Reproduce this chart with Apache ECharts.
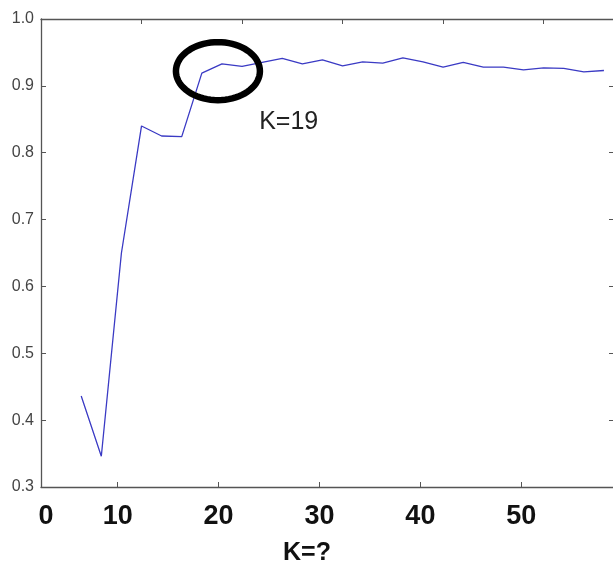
<!DOCTYPE html>
<html>
<head>
<meta charset="utf-8">
<script src="https://cdn.jsdelivr.net/npm/echarts@6/dist/echarts.min.js"></script>
<style>
html,body{margin:0;padding:0;background:#fff;}
#c{width:613px;height:567px;}
</style>
</head>
<body>
<div id="c"></div>
<script>
// K values (read against the top-edge tick scale)
const kValues = [4,6,8,10,12,14,16,18,20,22,24,26,28,30,32,34,36,38,40,42,44,46,48,50,52,54,56];
// accuracy values
const accuracy = [0.436,0.346,0.650,0.840,0.825,0.824,0.919,0.933,0.929,0.935,0.941,0.933,0.939,0.930,0.936,0.934,0.942,0.936,0.928,0.935,0.928,0.928,0.924,0.927,0.926,0.921,0.923];
// bottom axis labels
const xLabelValues = [2.9,10,20,30,40,50];
const xLabelTexts = ['0','10','20','30','40','50'];
const xTickValues = [10,20,30,40,50];
const yTicks = [0.3,0.4,0.5,0.6,0.7,0.8,0.9,1.0];
// annotation
const annoCircle = [17.6, 0.922];
const annoText = 'K=19';
const annoTextPos = [21.7, 0.846];

const chart = echarts.init(document.getElementById('c'));
const axisColor = '#555';
const labelMap = {};
xLabelValues.forEach((v,i)=>labelMap[v]=xLabelTexts[i]);

const option = {
  animation:false,
  backgroundColor:'#fff',
  grid:{left:41, top:19, width:573, height:468, containLabel:false, outerBoundsMode:'none'},
  xAxis:[
    {
      type:'value', position:'bottom', min:2.4, max:59.19,
      axisLine:{show:true, lineStyle:{color:axisColor, width:1.3}},
      axisTick:{show:true, inside:true, length:5, customValues:xTickValues, lineStyle:{color:axisColor}},
      axisLabel:{show:true, customValues:xLabelValues, margin:16,
        formatter:v=>labelMap[v]!==undefined?labelMap[v]:String(v),
        fontFamily:'"Liberation Sans Narrow","Liberation Sans",sans-serif', fontWeight:'bold', fontSize:27, color:'#111'},
      splitLine:{show:false},
      name:'K=?', nameLocation:'middle', nameGap:54,
      nameTextStyle:{fontFamily:'"Liberation Sans Narrow","Liberation Sans",sans-serif', fontWeight:'bold', fontSize:25, color:'#111', padding:[0,41,0,0]}
    },
    {
      type:'value', position:'top', min:0, max:57, interval:10,
      axisLine:{show:true, onZero:false, lineStyle:{color:axisColor, width:1.3}},
      axisTick:{show:true, inside:true, length:5, lineStyle:{color:axisColor}},
      axisLabel:{show:false}, splitLine:{show:false}
    }
  ],
  yAxis:[
    {
      type:'value', position:'left', min:0.3, max:1.0, interval:0.1,
      axisLine:{show:true, lineStyle:{color:axisColor, width:1.3}},
      axisTick:{show:true, inside:true, length:5, lineStyle:{color:axisColor}},
      axisLabel:{show:true, margin:7, formatter:v=>v.toFixed(1),
        fontFamily:'"Liberation Sans",Arial,sans-serif', fontSize:16, color:'#444'},
      splitLine:{show:false}
    },
    {
      type:'value', position:'right', min:0.3, max:1.0, interval:0.1,
      axisLine:{show:true, lineStyle:{color:axisColor, width:1.3}},
      axisTick:{show:true, inside:true, length:5, lineStyle:{color:axisColor}},
      axisLabel:{show:false}, splitLine:{show:false}
    }
  ],
  series:[{
    type:'line', xAxisIndex:1, yAxisIndex:0,
    data:kValues.map((k,i)=>[k,accuracy[i]]),
    showSymbol:false, symbol:'none',
    lineStyle:{color:'#3a3ac4', width:1.3},
    z:3
  }]
};
chart.setOption(option);

const c = chart.convertToPixel({xAxisIndex:1, yAxisIndex:0}, annoCircle);
const t = chart.convertToPixel({xAxisIndex:1, yAxisIndex:0}, annoTextPos);
const rx = 42, ry = 29, pts = [];
for (let i=0;i<72;i++){const a=i/72*Math.PI*2; pts.push([c[0]+rx*Math.cos(a), c[1]+ry*Math.sin(a)]);}
chart.setOption({
  graphic:[
    {type:'polygon', shape:{points:pts}, style:{fill:'none', stroke:'#000', lineWidth:6.5}, z:10},
    {type:'text', x:t[0], y:t[1], style:{text:annoText, fill:'#222', fontSize:25,
      fontFamily:'"Liberation Sans",Arial,sans-serif', verticalAlign:'middle', align:'left'}, z:10}
  ]
});
</script>
</body>
</html>
